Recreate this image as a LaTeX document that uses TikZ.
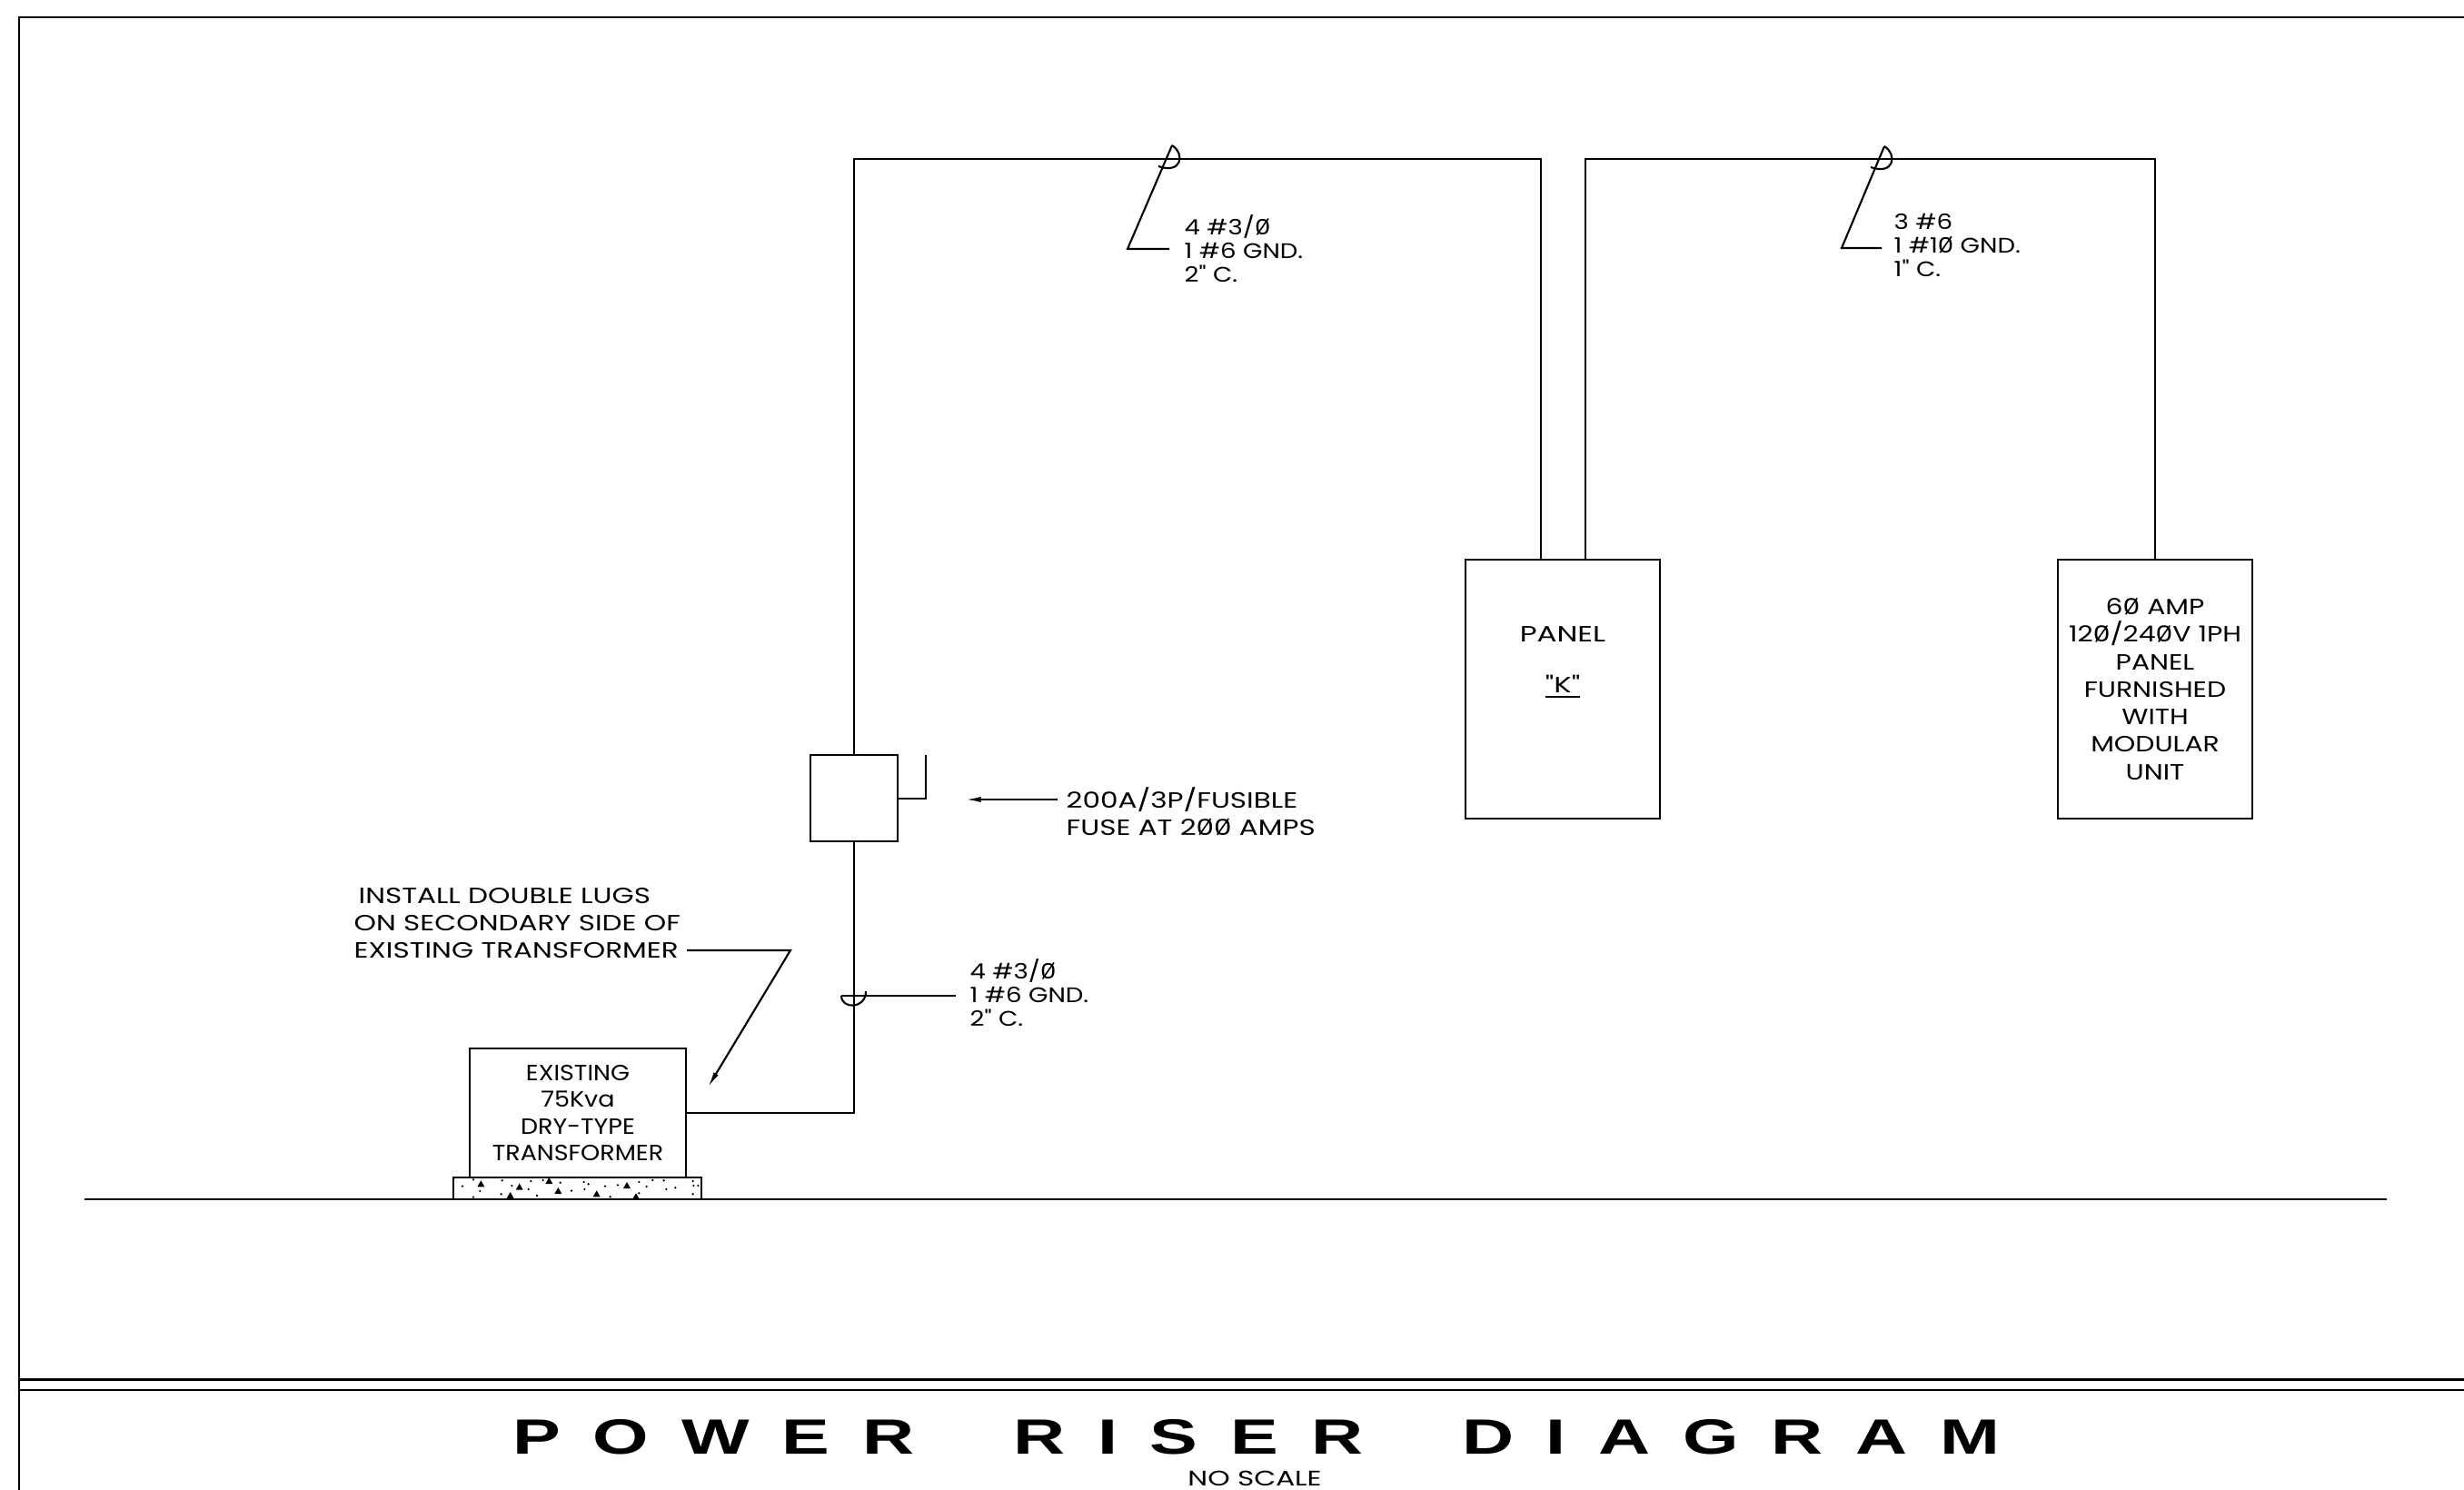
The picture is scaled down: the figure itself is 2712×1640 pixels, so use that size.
\documentclass[tikz,border=0pt]{standalone}
\usepackage{fontspec}
\usepackage{graphicx}
\usetikzlibrary{arrows.meta}
\setmainfont{Poppins}
\newfontfamily\titlefont[FakeStretch=1.45,LetterSpace=65.7]{Liberation Sans Bold}
\newfontfamily\transfont[FakeStretch=1.11]{Poppins}
\newfontfamily\notefont[FakeStretch=1.19]{Poppins}
\newfontfamily\boxfont[FakeStretch=1.23]{Poppins}
\newfontfamily\calloutfont[FakeStretch=1.28]{Poppins}
\newfontfamily\panelfont[FakeStretch=1.34]{Poppins}
\newcommand{\slz}{\ooalign{0\cr\hidewidth\rotatebox{55}{\rule{6.2pt}{0.45pt}}\hidewidth\cr}}
\tikzset{
  wire/.style = {line width=0.6pt},
  tip/.style = {-{Latex[length=5pt,width=1.7pt]}},
  box/.style = {draw, line width=0.7pt, inner sep=0pt, align=center, font=\boxfont\fontsize{6.9}{8.6}\selectfont},
  note/.style = {inner sep=0pt, align=left, font=\notefont\fontsize{6.6}{7.4}\selectfont},
  callout/.style = {inner sep=0pt, align=left, font=\calloutfont\fontsize{6.9}{8.5}\selectfont},
}
\begin{document}
\begin{tikzpicture}[x=0.01cm, y=-0.01cm]
  \useasboundingbox (0,0) rectangle (2712,1640);
  % sheet frame
  \coordinate (frametl) at (21,19);
  \coordinate (frametr) at (2712,19);
  \coordinate (framebl) at (21,1640);
  \coordinate (rulea) at (21,1518);
  \coordinate (ruleb) at (21,1530);
  \draw[wire] (framebl) -- (frametl) -- (frametr);
  \draw[wire, line width=0.85pt] (rulea) -- (rulea -| frametr);
  \draw[wire] (ruleb) -- (ruleb -| frametr);
  % floor
  \coordinate (floorl) at (93,1320);
  \coordinate (floorr) at (2627,1320);
  \draw[wire] (floorl) -- (floorr);
  % equipment
  \node[box, minimum width=2.38cm, minimum height=1.42cm, font=\transfont\fontsize{6.9}{8.3}\selectfont] (trans) at (636,1225) {EXISTING\\75Kva\\DRY-TYPE\\TRANSFORMER};
  \node[box, minimum width=2.73cm, minimum height=0.24cm] (pad) at (635.5,1308) {};
  \node[box, minimum width=0.96cm, minimum height=0.95cm] (fuse) at (940,878.5) {};
  \node[box, minimum width=2.14cm, minimum height=2.85cm] (panelk) at (1720,758.5) {};
  \node[box, minimum width=2.14cm, minimum height=2.85cm] (panelm) at (2372,758.5) {6\slz{} AMP\\12\slz{}/24\slz{}V 1PH\\PANEL\\FURNISHED\\WITH\\MODULAR\\UNIT};
  \node[box, draw=none, font=\panelfont\fontsize{6.9}{8.6}\selectfont] (panelname) at (1720,698) {PANEL};
  \node[box, draw=none, font=\panelfont\fontsize{6.9}{8.6}\selectfont] (panelmark) at (1720,756) {\underline{"K"}};
  % wires
  \coordinate (panelktop) at (1696,616);
  \coordinate (panelkout) at (1745,616);
  \coordinate (panelmtop) at (2372,616);
  \coordinate (riser) at (940,175);
  \draw[wire] (fuse.north) -- (riser) -- (riser -| panelktop) -- (panelktop);
  \draw[wire] (panelkout) -- (panelkout |- riser) -- (panelmtop |- riser) -- (panelmtop);
  \coordinate (elbow) at (940,1225);
  \draw[wire] (fuse.south) -- (elbow) -- (elbow -| trans.east);
  % fuse handle
  \coordinate (handle) at (1019,879);
  \draw[wire] (handle -| fuse.east) -- (handle) -- (1019,831);
  % pad stipple
  \foreach \tx/\ty in {118/55, 245/65, 343/45, 373/78, 500/88, 600/60, 630/97, 215/93}
    \fill (490+\tx/3-4,1285+\ty/3+3) -- (490+\tx/3+4,1285+\ty/3+3) -- (490+\tx/3,1285+\ty/3-4) -- cycle;
  \foreach \dx/\dy in {57/62, 115/78, 188/43, 185/88, 220/60, 93/98, 275/72, 283/45, 323/42, 303/93, 380/50, 417/77, 458/48, 473/55, 460/72, 528/62, 570/58, 545/97, 640/48, 640/85, 665/63, 685/42, 722/43, 730/72, 760/67, 818/45, 820/60, 835/60, 818/88, 27/60, 93/40}
    \fill (490+\dx/3,1285+\dy/3) circle (1.3);
  % conduit callouts
  \coordinate (tapa) at (1290,160);
  \coordinate (tapb) at (1241,274);
  \coordinate (tapc) at (1287,274);
  \draw[wire] (tapa) -- (tapb) -- (tapc);
  \draw[wire] (1275,183) .. controls (1300,192) and (1305,170) .. (tapa);
  \node[note, anchor=west] (notea) at (1303,274) {4 \#3/\slz\\1 \#6 GND.\\2" C.};
  \coordinate (tapd) at (2074,161);
  \coordinate (tape) at (2027,273);
  \coordinate (tapf) at (2071,273);
  \draw[wire] (tapd) -- (tape) -- (tapf);
  \draw[wire] (2059,184) .. controls (2084,193) and (2089,171) .. (tapd);
  \node[note, anchor=west] (noteb) at (2084,270) {3 \#6\\1 \#1\slz{} GND.\\1" C.};
  \coordinate (tapg) at (953,1091);
  \coordinate (taph) at (926,1096);
  \coordinate (tapi) at (1052,1096);
  \draw[wire] (taph) -- (tapi);
  \draw[wire] (taph) .. controls (926,1111) and (953,1111) .. (tapg);
  \node[note, anchor=west] (notec) at (1067,1093) {4 \#3/\slz\\1 \#6 GND.\\2" C.};
  % fuse note
  \node[callout, anchor=west] (fusenote) at (1173,893) {200A/3P/FUSIBLE\\FUSE AT 2\slz\slz{} AMPS};
  \coordinate (fusetip) at (1062,880);
  \draw[wire, tip] (1164,880) -- (fusetip);
  % lug note
  \node[callout, anchor=west] (lugnote) at (389,1016) {\hspace{1.4pt}INSTALL DOUBLE LUGS\\ON SECONDARY SIDE OF\\EXISTING TRANSFORMER};
  \coordinate (lugbend) at (870,1046);
  \coordinate (lugtip) at (779,1197);
  \draw[wire, tip] (756,1046) -- (lugbend) -- (lugtip);
  % title
  \node[inner sep=0pt, font=\titlefont\fontsize{15.5}{18}\selectfont] (title) at (1383,1582) {POWER\hspace{31pt}RISER\hspace{31pt}DIAGRAM};
  \node[inner sep=0pt, font=\panelfont\fontsize{6.6}{8}\selectfont] (noscale) at (1381,1627) {NO SCALE};
\end{tikzpicture}
\end{document}
